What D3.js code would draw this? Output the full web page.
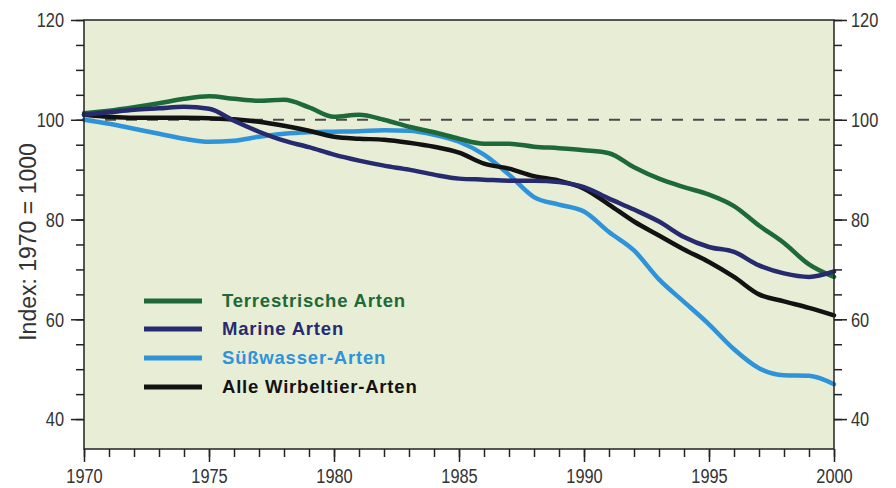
<!DOCTYPE html>
<html>
<head>
<meta charset="utf-8">
<script src="https://cdn.jsdelivr.net/npm/d3@7"></script>
<style>
  html, body { margin: 0; padding: 0; background: #ffffff; }
  svg { display: block; }
</style>
</head>
<body>
<svg id="chart" width="896" height="488"></svg>
<script>
// ---- data ----
const years = d3.range(1970, 2001);
const terrestrial = [101.3, 101.8, 102.5, 103.3, 104.2, 104.7, 104.2, 103.8, 104.0, 102.5, 100.6, 101.0, 100.0, 98.6, 97.5, 96.2, 95.2, 95.2, 94.6, 94.3, 93.9, 93.3, 90.5, 88.2, 86.5, 85.0, 82.7, 78.8, 75.3, 71.0, 68.5];
const marine = [101.0, 101.5, 102.0, 102.3, 102.6, 102.2, 99.8, 97.6, 95.8, 94.5, 93.0, 91.8, 90.8, 90.0, 89.0, 88.2, 88.0, 87.8, 87.8, 87.5, 86.5, 84.2, 82.0, 79.6, 76.5, 74.5, 73.5, 70.8, 69.2, 68.5, 69.6];
const freshwater = [100.0, 99.2, 98.2, 97.2, 96.2, 95.6, 95.8, 96.6, 97.2, 97.5, 97.6, 97.7, 97.9, 97.8, 97.0, 95.6, 93.0, 89.0, 84.5, 83.0, 81.6, 77.5, 73.8, 68.0, 63.5, 59.0, 54.0, 50.2, 48.8, 48.7, 47.0];
const allSpecies = [101.0, 100.6, 100.4, 100.4, 100.4, 100.3, 100.1, 99.6, 98.8, 97.8, 96.6, 96.2, 96.0, 95.4, 94.6, 93.4, 91.2, 90.2, 88.7, 87.8, 86.2, 83.0, 79.6, 76.8, 74.0, 71.5, 68.5, 65.0, 63.6, 62.3, 60.8];
const seriesNames = ["Terrestrische Arten", "Marine Arten", "Süßwasser-Arten", "Alle Wirbeltier-Arten"];
const yTickLabels = [40, 60, 80, 100, 120];
const xTickLabels = [1970, 1975, 1980, 1985, 1990, 1995, 2000];
const yTitle = "Index: 1970 = 1000";
const referenceValue = 100;

// ---- styles ----
const colors = ["#1d6a38", "#262a6e", "#2f93da", "#121212"];
const bg = "#e8eed6";
const labelFont = "'Liberation Sans', Arial, sans-serif";
const squeeze = 0.78;

const svg = d3.select("#chart");
const pLeft = 84, pRight = 834, pTop = 20, pBottom = 449;

const x = d3.scaleLinear().domain([1970, 2000]).range([pLeft, pRight]);
const y = d3.scaleLinear().domain([34, 120]).range([pBottom, pTop]);

// plot background
svg.append("rect")
  .attr("x", pLeft).attr("y", pTop)
  .attr("width", pRight - pLeft).attr("height", pBottom - pTop)
  .attr("fill", bg);

// reference dashed line
svg.append("line")
  .attr("x1", x(1970)).attr("x2", x(2000))
  .attr("y1", y(referenceValue)).attr("y2", y(referenceValue))
  .attr("stroke", "#4a4a4a").attr("stroke-width", 2)
  .attr("stroke-dasharray", "11,10");

// series lines
const allSeries = [terrestrial, marine, freshwater, allSpecies];
const line = d3.line()
  .x((d, i) => x(years[i]))
  .y(d => y(d))
  .curve(d3.curveMonotoneX);

[2, 0, 3, 1].forEach(k => {
  svg.append("path")
    .datum(allSeries[k])
    .attr("d", line)
    .attr("fill", "none")
    .attr("stroke", colors[k])
    .attr("stroke-width", 4.5)
    .attr("stroke-linejoin", "round")
    .attr("stroke-linecap", "round");
});

// frame
svg.append("rect")
  .attr("x", pLeft).attr("y", pTop)
  .attr("width", pRight - pLeft).attr("height", pBottom - pTop)
  .attr("fill", "none").attr("stroke", "#222").attr("stroke-width", 1.5);

function styleAxis(g) {
  g.select(".domain").remove();
  g.selectAll(".tick line").attr("stroke", "#222").attr("stroke-width", 1.5);
  g.selectAll(".tick text").each(function () {
    const t = d3.select(this);
    const tx = +t.attr("x") || 0;
    t.attr("x", tx / squeeze)
      .attr("transform", `scale(${squeeze},1)`)
      .attr("fill", "#333")
      .style("font-family", labelFont)
      .style("font-size", "21px");
  });
}

const yMinor = d3.range(40, 121, 5);
const xMinor = d3.range(1970, 2001, 1);

// left axis
svg.append("g").attr("transform", `translate(${pLeft},0)`)
  .call(d3.axisLeft(y).tickValues(yMinor).tickSize(8).tickFormat(""))
  .call(styleAxis);
svg.append("g").attr("transform", `translate(${pLeft},0)`)
  .call(d3.axisLeft(y).tickValues(yTickLabels).tickSize(13).tickPadding(7).tickFormat(d3.format("d")))
  .call(styleAxis);

// right axis
svg.append("g").attr("transform", `translate(${pRight},0)`)
  .call(d3.axisRight(y).tickValues(yMinor).tickSize(8).tickFormat(""))
  .call(styleAxis);
svg.append("g").attr("transform", `translate(${pRight},0)`)
  .call(d3.axisRight(y).tickValues(yTickLabels).tickSize(13).tickPadding(4).tickFormat(d3.format("d")))
  .call(styleAxis);

// bottom axis
svg.append("g").attr("transform", `translate(0,${pBottom})`)
  .call(d3.axisBottom(x).tickValues(xMinor).tickSize(8).tickFormat(""))
  .call(styleAxis);
svg.append("g").attr("transform", `translate(0,${pBottom})`)
  .call(d3.axisBottom(x).tickValues(xTickLabels).tickSize(13).tickPadding(6).tickFormat(d3.format("d")))
  .call(styleAxis);

// y title
svg.append("text")
  .attr("transform", `translate(36,242) rotate(-90)`)
  .attr("text-anchor", "middle")
  .attr("fill", "#333")
  .style("font-family", labelFont)
  .style("font-size", "23px")
  .text(yTitle);

// legend
const legendY = [301, 329, 358, 387];
seriesNames.forEach((name, k) => {
  svg.append("line")
    .attr("x1", 144).attr("x2", 202)
    .attr("y1", legendY[k]).attr("y2", legendY[k])
    .attr("stroke", colors[k]).attr("stroke-width", 5);
  svg.append("text")
    .attr("x", 222).attr("y", legendY[k])
    .attr("dy", "0.35em")
    .attr("fill", colors[k])
    .style("font-family", labelFont)
    .style("font-size", "18.5px")
    .style("letter-spacing", "0.8px")
    .style("font-weight", "bold")
    .text(name);
});
</script>
</body>
</html>
